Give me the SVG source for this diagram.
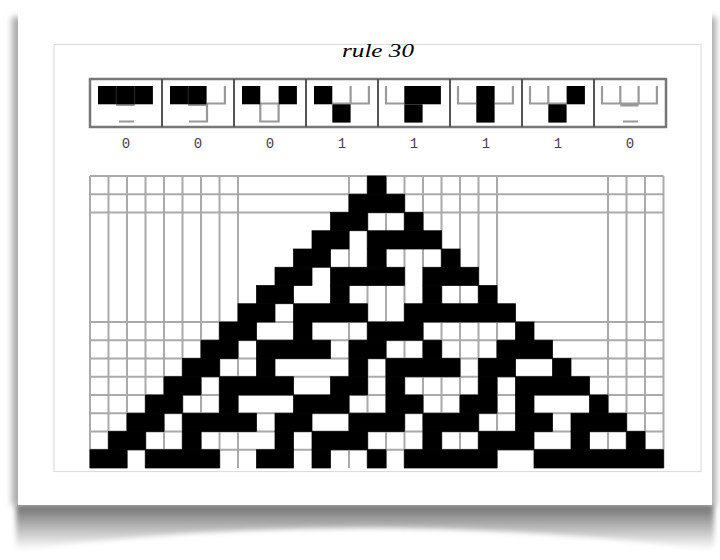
<svg xmlns="http://www.w3.org/2000/svg" width="720" height="560" viewBox="0 0 720 560">
  <defs>
    <filter id="blur3" x="-10%" y="-10%" width="120%" height="120%"><feGaussianBlur stdDeviation="3"/></filter>
    <filter id="blur2" x="-10%" y="-50%" width="120%" height="200%"><feGaussianBlur stdDeviation="2.5"/></filter>
    <linearGradient id="shadowGrad" gradientUnits="userSpaceOnUse" x1="0" y1="505" x2="0" y2="550">
      <stop offset="0" stop-color="#6e6e6e"/>
      <stop offset="0.5" stop-color="#b8b8b8"/>
      <stop offset="1" stop-color="#ffffff"/>
    </linearGradient>
    <style>
      .box { fill: none; stroke: #777; stroke-width: 2.5; }
      .div { stroke: #555; stroke-width: 2; }
      .mesh { fill: none; stroke: #999; stroke-width: 2.2; }
      .blk { fill: #000; }
      .digit { font-family: "Liberation Mono", "DejaVu Sans Mono", monospace; font-size: 14px; fill: #444; text-anchor: middle; }
      .grid { fill: none; stroke: #aaa; stroke-width: 2; }
    </style>
  </defs>

  <rect width="720" height="560" fill="#fff"/>

  <g id="card">
    <path d="M16 503 H714 V550 Q365 506 16 550 Z" fill="url(#shadowGrad)" filter="url(#blur2)"/>
    <rect x="12" y="17" width="704" height="488" fill="#aaaaaa" filter="url(#blur3)"/>
    <rect x="18" y="10" width="694" height="495" fill="#fff"/>
  </g>

  <g id="frame">
    <rect x="54" y="44.5" width="647" height="427" fill="#fff" stroke="#ddd" stroke-width="1.2"/>
  </g>

  <g id="title">
    <text x="378" y="57" font-family="Liberation Serif, serif" font-style="italic" font-size="18" fill="#000" text-anchor="middle" textLength="72" lengthAdjust="spacingAndGlyphs">rule 30</text>
  </g>

  <g id="rule-icons">
    <g id="icon-111" transform="translate(90 0)">
      <path class="mesh" d="M26.3 105 H44.6 M29 121.5 H44"/>
      <rect class="blk" x="8" y="86" width="54.9" height="18.3"/>
      <path d="M26.3 86 V104.3 M44.6 86 V104.3" stroke="#333" stroke-width="0.8"/>
    </g>
    <g id="icon-110" transform="translate(162 0)">
      <path class="mesh" d="M44.6 103.5 H62.9 V86 M26.3 105 H45 V121.5 H27"/>
      <rect class="blk" x="8" y="86" width="36.6" height="18.3"/>
      <path d="M26.3 86 V104.3" stroke="#333" stroke-width="0.8"/>
    </g>
    <g id="icon-101" transform="translate(234 0)">
      <path class="mesh" d="M26.3 103.5 H44.6 M26.3 104 V121.5 H44.6 V104"/>
      <rect class="blk" x="8" y="86" width="18.3" height="18.3"/>
      <rect class="blk" x="44.6" y="86" width="18.3" height="18.3"/>
    </g>
    <g id="icon-100" transform="translate(306 0)">
      <path class="mesh" d="M44.6 86 V103.5 H62.9 V86 M26.3 103.5 H44.6"/>
      <rect class="blk" x="8" y="86" width="18.3" height="18.3"/>
      <rect class="blk" x="26.3" y="104.3" width="18.3" height="18.3"/>
    </g>
    <g id="icon-011" transform="translate(378 0)">
      <path class="mesh" d="M8 86 V103.5 H26.3"/>
      <rect class="blk" x="26.3" y="86" width="36.6" height="18.3"/>
      <rect class="blk" x="26.3" y="104.3" width="18.3" height="18.3"/>
    </g>
    <g id="icon-010" transform="translate(450 0)">
      <path class="mesh" d="M8 86 V103.5 H26.3 M44.6 103.5 H62.9 V86"/>
      <rect class="blk" x="26.3" y="86" width="18.3" height="36.6"/>
    </g>
    <g id="icon-001" transform="translate(522 0)">
      <path class="mesh" d="M8 86 V103.5 H44.6 M26.3 86 V103.5"/>
      <rect class="blk" x="44.6" y="86" width="18.3" height="18.3"/>
      <rect class="blk" x="26.3" y="104.3" width="18.3" height="18.3"/>
    </g>
    <g id="icon-000" transform="translate(594 0)">
      <path class="mesh" d="M8 86 V103.5 H62.9 V86 M26.3 86 V103.5 M44.6 86 V103.5 M26.3 105.5 H44.6 M29 121.5 H44"/>
    </g>
    <g id="icon-frame">
      <rect class="box" x="90" y="79" width="576" height="48"/>
      <path class="div" d="M162 79 V127 M234 79 V127 M306 79 V127 M378 79 V127 M450 79 V127 M522 79 V127 M594 79 V127"/>
    </g>
  </g>

  <g id="rule-digits">
    <text class="digit" x="126" y="148">0</text>
    <text class="digit" x="198" y="148">0</text>
    <text class="digit" x="270" y="148">0</text>
    <text class="digit" x="342" y="148">1</text>
    <text class="digit" x="414" y="148">1</text>
    <text class="digit" x="486" y="148">1</text>
    <text class="digit" x="558" y="148">1</text>
    <text class="digit" x="630" y="148">0</text>
  </g>

  <g id="ca-grid">
    <path class="grid" d="M90 176V468 M108.5 176V468 M127 176V468 M145.5 176V468 M164 176V468 M182.5 176V468 M201 176V468 M219.5 176V468 M238 176V468 M349 176V468 M367.5 176V468 M386 176V468 M404.5 176V468 M423 176V468 M441.5 176V468 M460 176V468 M478.5 176V468 M497 176V468 M608 176V468 M626.5 176V468 M645 176V468 M663.5 176V468 M90 176H663.5 M90 194.25H663.5 M90 212.5H663.5 M90 322H663.5 M90 340.25H663.5 M90 358.5H663.5 M90 376.75H663.5 M90 395H663.5 M90 413.25H663.5 M90 431.5H663.5 M90 449.75H663.5"/>
    <g transform="translate(90 176) scale(18.5 18.25)" fill="#000" stroke="#000" stroke-width="0.04">
      <rect x="15" y="0" width="1" height="1"/>
      <rect x="14" y="1" width="3" height="1"/>
      <rect x="13" y="2" width="2" height="1"/><rect x="17" y="2" width="1" height="1"/>
      <rect x="12" y="3" width="2" height="1"/><rect x="15" y="3" width="4" height="1"/>
      <rect x="11" y="4" width="2" height="1"/><rect x="15" y="4" width="1" height="1"/><rect x="19" y="4" width="1" height="1"/>
      <rect x="10" y="5" width="2" height="1"/><rect x="13" y="5" width="4" height="1"/><rect x="18" y="5" width="3" height="1"/>
      <rect x="9" y="6" width="2" height="1"/><rect x="13" y="6" width="1" height="1"/><rect x="18" y="6" width="1" height="1"/><rect x="21" y="6" width="1" height="1"/>
      <rect x="8" y="7" width="2" height="1"/><rect x="11" y="7" width="4" height="1"/><rect x="17" y="7" width="6" height="1"/>
      <rect x="7" y="8" width="2" height="1"/><rect x="11" y="8" width="1" height="1"/><rect x="15" y="8" width="3" height="1"/><rect x="23" y="8" width="1" height="1"/>
      <rect x="6" y="9" width="2" height="1"/><rect x="9" y="9" width="4" height="1"/><rect x="14" y="9" width="2" height="1"/><rect x="18" y="9" width="1" height="1"/><rect x="22" y="9" width="3" height="1"/>
      <rect x="5" y="10" width="2" height="1"/><rect x="9" y="10" width="1" height="1"/><rect x="14" y="10" width="1" height="1"/><rect x="16" y="10" width="4" height="1"/><rect x="21" y="10" width="2" height="1"/><rect x="25" y="10" width="1" height="1"/>
      <rect x="4" y="11" width="2" height="1"/><rect x="7" y="11" width="4" height="1"/><rect x="13" y="11" width="2" height="1"/><rect x="16" y="11" width="1" height="1"/><rect x="21" y="11" width="1" height="1"/><rect x="23" y="11" width="4" height="1"/>
      <rect x="3" y="12" width="2" height="1"/><rect x="7" y="12" width="1" height="1"/><rect x="11" y="12" width="3" height="1"/><rect x="16" y="12" width="2" height="1"/><rect x="20" y="12" width="2" height="1"/><rect x="23" y="12" width="1" height="1"/><rect x="27" y="12" width="1" height="1"/>
      <rect x="2" y="13" width="2" height="1"/><rect x="5" y="13" width="4" height="1"/><rect x="10" y="13" width="2" height="1"/><rect x="14" y="13" width="3" height="1"/><rect x="18" y="13" width="3" height="1"/><rect x="23" y="13" width="2" height="1"/><rect x="26" y="13" width="3" height="1"/>
      <rect x="1" y="14" width="2" height="1"/><rect x="5" y="14" width="1" height="1"/><rect x="10" y="14" width="1" height="1"/><rect x="12" y="14" width="3" height="1"/><rect x="18" y="14" width="1" height="1"/><rect x="21" y="14" width="3" height="1"/><rect x="26" y="14" width="1" height="1"/><rect x="29" y="14" width="1" height="1"/>
      <rect x="0" y="15" width="2" height="1"/><rect x="3" y="15" width="4" height="1"/><rect x="9" y="15" width="2" height="1"/><rect x="12" y="15" width="1" height="1"/><rect x="15" y="15" width="1" height="1"/><rect x="17" y="15" width="5" height="1"/><rect x="24" y="15" width="7" height="1"/>
    </g>
  </g>
</svg>
